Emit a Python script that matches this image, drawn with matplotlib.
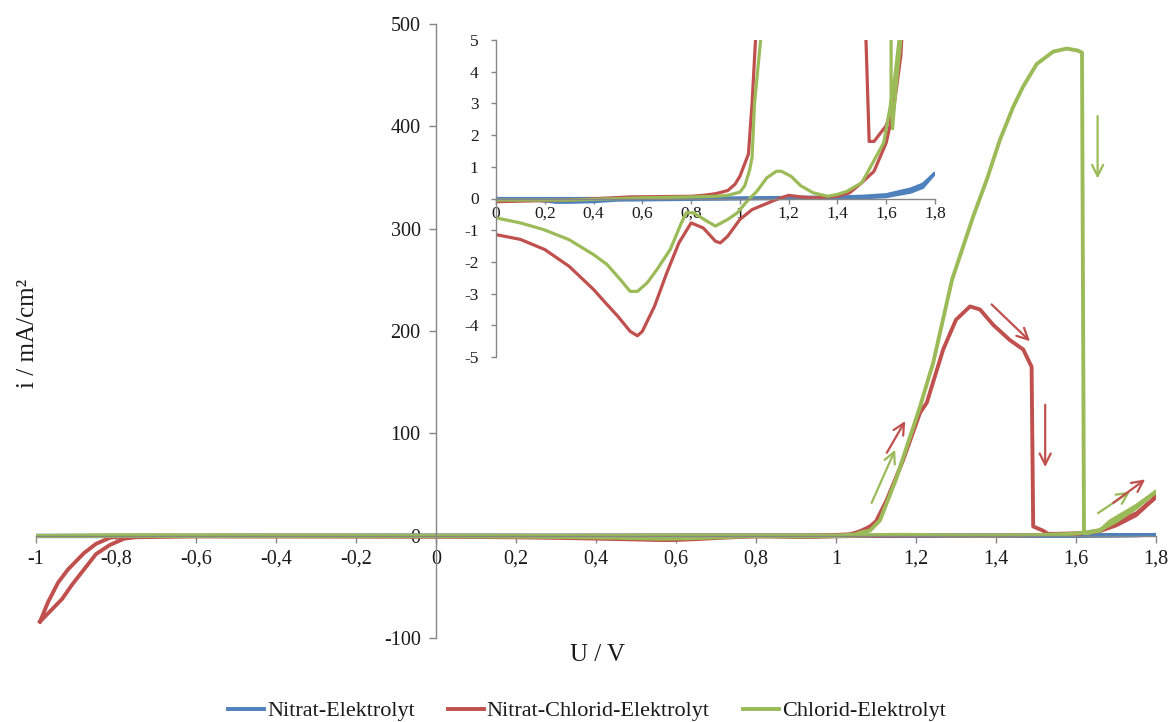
import matplotlib
matplotlib.use("Agg")
import matplotlib.pyplot as plt
import numpy as np

plt.rcParams['font.family'] = ['Liberation Serif', 'DejaVu Serif']

# ---- data: potential U (V) and current density i (mA/cm²), full cyclic scans ----
u_nitrat = [-1.0, -0.8, -0.5, 0.0, 0.5, 1.0, 1.4, 1.5, 1.6, 1.7, 1.75, 1.8,
            1.75, 1.7, 1.6, 1.5, 1.2, 0.5, 0.4, 0.3, 0.25, 0.2, 0.1, 0.0,
            -0.5, -0.8, -1.0]
i_nitrat = [0.0, 0.0, 0.0, 0.0, 0.0, 0.02, 0.05, 0.07, 0.12, 0.3, 0.45, 0.8,
            0.35, 0.2, 0.06, 0.02, 0.0, -0.05, -0.1, -0.12, -0.12, -0.08, -0.02, 0.0,
            -0.1, -0.5, -0.5]

u_mix = [-0.99, -0.97, -0.945, -0.92, -0.9, -0.88, -0.85, -0.815, -0.78, -0.75,
         -0.5, 0.0, 0.3, 0.55, 0.8, 0.85, 0.9, 0.95, 0.98, 1.0, 1.02, 1.035,
         1.05, 1.064, 1.085, 1.10, 1.127, 1.168, 1.21, 1.227, 1.268, 1.30, 1.335,
         1.36, 1.393, 1.435, 1.468, 1.489, 1.493, 1.505, 1.517, 1.53, 1.55, 1.6,
         1.63, 1.66, 1.685, 1.752, 1.8,
         1.75, 1.7, 1.66, 1.63, 1.6, 1.55, 1.5, 1.45, 1.4, 1.3, 1.25, 1.2, 1.15,
         1.1, 1.05, 1.0, 0.95, 0.92, 0.9, 0.85, 0.8, 0.75, 0.7, 0.65, 0.6, 0.58,
         0.55, 0.5, 0.45, 0.4, 0.3, 0.2, 0.1, 0.0, -0.3, -0.6, -0.75, -0.78,
         -0.815, -0.85, -0.88, -0.91, -0.935, -0.96, -0.99]
i_mix = [-84, -65, -46, -33, -25, -17, -8, -2, -0.5, 0.0,
         0.0, -0.1, -0.05, 0.05, 0.07, 0.1, 0.15, 0.25, 0.45, 0.7, 1.1, 1.4,
         3.0, 5.0, 9.0, 14, 35, 74, 120, 130, 182, 211, 224,
         221, 206, 191, 182, 165, 9.0, 7.0, 5.0, 1.8, 1.8, 2.3,
         3.0, 5.0, 10.7, 22, 38,
         20, 10, 4.5, 2.8, 1.76, 0.86, 0.5, 0.18, 0.07, 0.02, 0.05, 0.1, -0.03,
         -0.19, -0.35, -0.66, -1.19, -1.4, -1.35, -0.93, -0.77, -1.4, -2.35, -3.4, -4.19, -4.33,
         -4.19, -3.72, -3.3, -2.87, -2.14, -1.61, -1.29, -1.14, -0.9, -0.8, -1.5, -3.0,
         -9.0, -18, -33, -48, -62, -72, -84]

u_chlorid = [-1.0, -0.8, -0.5, 0.0, 0.3, 0.6, 0.8, 0.9, 0.95, 1.0, 1.02, 1.04,
             1.05, 1.06, 1.085, 1.11, 1.15, 1.21, 1.243, 1.29, 1.343, 1.377, 1.41,
             1.443, 1.468, 1.502, 1.543, 1.577, 1.605, 1.615, 1.62, 1.626, 1.64,
             1.66, 1.685, 1.75, 1.8,
             1.75, 1.7, 1.66, 1.63, 1.59, 1.55, 1.5, 1.44, 1.4, 1.36, 1.3, 1.25,
             1.21, 1.17, 1.15, 1.11, 1.07, 1.03, 0.99, 0.95, 0.9, 0.866, 0.81,
             0.78, 0.76, 0.715, 0.66, 0.62, 0.58, 0.55, 0.51, 0.455, 0.4, 0.3,
             0.195, 0.1, 0.0, -0.5, -1.0]
i_chlorid = [-0.3, 0.5, 0.2, -0.05, -0.05, 0.02, 0.05, 0.07, 0.1, 0.2, 0.4, 0.9,
             1.3, 3.0, 5.0, 15, 55, 126, 169, 250, 312, 348, 387,
             419, 439, 461, 473, 476, 474, 472, 3.0, 2.2, 3.5,
             5.0, 14, 29, 43,
             27, 14, 5.5, 3.5, 1.76, 1.2, 0.5, 0.23, 0.13, 0.07, 0.18, 0.4,
             0.7, 0.86, 0.86, 0.65, 0.23, -0.08, -0.45, -0.66, -0.87, -0.72, -0.45,
             -0.45, -0.77, -1.6, -2.24, -2.66, -2.93, -2.93, -2.56, -2.08, -1.77, -1.3,
             -0.98, -0.77, -0.61, -0.4, -0.3]

series_names = ["Nitrat-Elektrolyt", "Nitrat-Chlorid-Elektrolyt", "Chlorid-Elektrolyt"]
colors = ["#4F81BD", "#C0504D", "#9BBB59"]

main_xticks = [-1.0, -0.8, -0.6, -0.4, -0.2, 0.0, 0.2, 0.4, 0.6, 0.8, 1.0, 1.2, 1.4, 1.6, 1.8]
main_yticks = [-100, 0, 100, 200, 300, 400, 500]
inset_xticks = [0.0, 0.2, 0.4, 0.6, 0.8, 1.0, 1.2, 1.4, 1.6, 1.8]
inset_yticks = [-5, -4, -3, -2, -1, 0, 1, 2, 3, 4, 5]

# direction arrows along the scans: (start U, start i, end U, end i, colour index)
arrows = [
    (1.089, 32, 1.148, 84, 2),
    (1.127, 81, 1.173, 112, 1),
    (1.389, 226, 1.485, 190, 1),
    (1.523, 128, 1.523, 67, 1),
    (1.654, 410, 1.654, 349, 2),
    (1.655, 22, 1.735, 43, 2),
    (1.693, 32, 1.773, 55, 1),
]


def fmt(v):
    s = f"{v:g}"
    return s.replace(".", ",")


axis_grey = "#868686"
text_color = "#1a1a1a"

fig = plt.figure(figsize=(11.7, 7.22), dpi=100)

# ---- main axes ----
ax = fig.add_axes([36 / 1170, 1 - 638 / 722, (1156 - 36) / 1170, (638 - 24) / 722])
ax.patch.set_alpha(0)
data = [(u_nitrat, i_nitrat), (u_mix, i_mix), (u_chlorid, i_chlorid)]
for (u, i), c, name in zip(data, colors, series_names):
    ax.plot(u, i, color=c, lw=2.8, label=name, solid_joinstyle="round")

ax.set_xlim(-1.0, 1.8)
ax.set_ylim(-100, 500)
for side in ("top", "right"):
    ax.spines[side].set_visible(False)
ax.spines["left"].set_position(("data", 0))
ax.spines["bottom"].set_position(("data", 0))
for side in ("left", "bottom"):
    ax.spines[side].set_color(axis_grey)
    ax.spines[side].set_linewidth(1.0)
ax.set_xticks(main_xticks)
ax.set_xticklabels([fmt(v) for v in main_xticks])
ax.set_yticks(main_yticks)
ax.set_yticklabels([fmt(v) for v in main_yticks])
ax.tick_params(axis="both", direction="out", length=5, width=1.0, color=axis_grey,
               labelsize=14.5, labelcolor=text_color)
ax.tick_params(axis="x", pad=5)
ax.tick_params(axis="y", pad=6)

for u0, i0, u1, i1, ci in arrows:
    ax.annotate("", xy=(u1, i1), xytext=(u0, i0),
                arrowprops=dict(arrowstyle="->", color=colors[ci], lw=1.6,
                                mutation_scale=20, shrinkA=0, shrinkB=0))

fig.text(28 / 1170, 1 - 333 / 722, "i / mA/cm²", rotation=90, ha="center", va="center",
         fontsize=18, color=text_color)
fig.text(597 / 1170, 1 - 655 / 722, "U / V", ha="center", va="center",
         fontsize=18, color=text_color)

# ---- inset zoom around zero current ----
axi = fig.add_axes([496 / 1170, 1 - 357 / 722, (935 - 496) / 1170, (357 - 40) / 722])
axi.patch.set_alpha(0)
for (u, i), c in zip(data, colors):
    axi.plot(u, i, color=c, lw=2.3, solid_joinstyle="round")
axi.set_xlim(0, 1.8)
axi.set_ylim(-5, 5)
for side in ("top", "right"):
    axi.spines[side].set_visible(False)
axi.spines["left"].set_position(("data", 0))
axi.spines["bottom"].set_position(("data", 0))
for side in ("left", "bottom"):
    axi.spines[side].set_color(axis_grey)
    axi.spines[side].set_linewidth(1.0)
axi.set_xticks(inset_xticks)
axi.set_xticklabels([fmt(v) for v in inset_xticks])
axi.set_yticks(inset_yticks)
axi.set_yticklabels([fmt(v) for v in inset_yticks])
axi.tick_params(axis="both", direction="out", length=3.5, width=1.0, color=axis_grey,
                labelsize=12.5, labelcolor=text_color)
axi.tick_params(axis="x", pad=2)
axi.tick_params(axis="y", pad=9)

# ---- legend ----
handles, labels = ax.get_legend_handles_labels()
fig.legend(handles, labels, loc="center", bbox_to_anchor=(587 / 1170, 1 - 711 / 722),
           ncol=3, frameon=False, fontsize=16, handlelength=1.6, handletextpad=0.14,
           columnspacing=1.5, labelcolor=text_color)

fig.savefig("out.png", dpi=100)
